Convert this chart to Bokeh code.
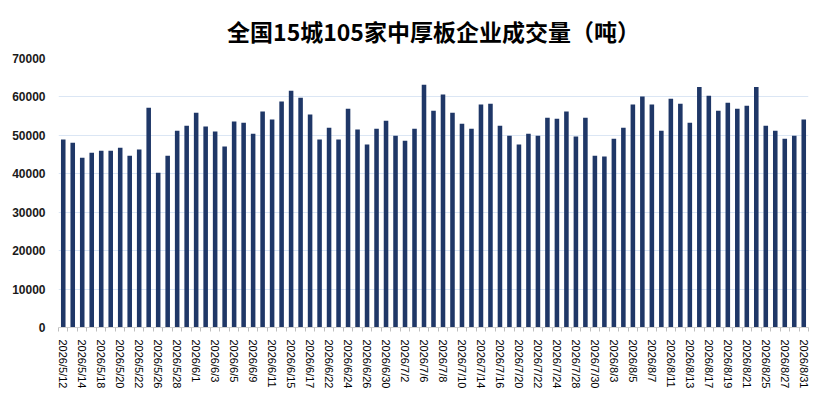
from bokeh.plotting import figure
from bokeh.models import Range1d, FixedTicker
from bokeh.embed import file_html
from bokeh.resources import INLINE

dates = [
    "2026/5/12", "2026/5/13", "2026/5/14", "2026/5/15", "2026/5/18", "2026/5/19", "2026/5/20",
    "2026/5/21", "2026/5/22", "2026/5/25", "2026/5/26", "2026/5/27", "2026/5/28", "2026/5/29",
    "2026/6/1", "2026/6/2", "2026/6/3", "2026/6/4", "2026/6/5", "2026/6/8", "2026/6/9",
    "2026/6/10", "2026/6/11", "2026/6/12", "2026/6/15", "2026/6/16", "2026/6/17", "2026/6/18",
    "2026/6/22", "2026/6/23", "2026/6/24", "2026/6/25", "2026/6/26", "2026/6/29", "2026/6/30",
    "2026/7/1", "2026/7/2", "2026/7/3", "2026/7/6", "2026/7/7", "2026/7/8", "2026/7/9",
    "2026/7/10", "2026/7/13", "2026/7/14", "2026/7/15", "2026/7/16", "2026/7/17", "2026/7/20",
    "2026/7/21", "2026/7/22", "2026/7/23", "2026/7/24", "2026/7/27", "2026/7/28", "2026/7/29",
    "2026/7/30", "2026/7/31", "2026/8/3", "2026/8/4", "2026/8/5", "2026/8/6", "2026/8/7",
    "2026/8/10", "2026/8/11", "2026/8/12", "2026/8/13", "2026/8/14", "2026/8/17", "2026/8/18",
    "2026/8/19", "2026/8/20", "2026/8/21", "2026/8/24", "2026/8/25", "2026/8/26", "2026/8/27",
    "2026/8/28", "2026/8/31",
]

volumes = [
    48900, 48100, 44200, 45500, 46000, 46000, 46800,
    44700, 46300, 57200, 40300, 44700, 51200, 52500,
    55900, 52300, 51000, 47100, 53600, 53300, 50400,
    56200, 54100, 58800, 61600, 59800, 55400, 48900,
    52000, 48900, 56900, 51500, 47600, 51700, 53800,
    49900, 48600, 51700, 63200, 56400, 60600, 55900,
    53000, 51700, 58000, 58200, 52500, 49900, 47600,
    50400, 49900, 54600, 54300, 56200, 49700, 54600,
    44700, 44500, 49100, 52000, 58000, 60100, 58000,
    51200, 59500, 58200, 53300, 62600, 60300, 56400,
    58500, 56900, 57700, 62600, 52500, 51200, 49100,
    49900, 54100,
]

y_ticks = [0, 10000, 20000, 30000, 40000, 50000, 60000, 70000]
title_text = "全国15城105家中厚板企业成交量（吨）"

n = len(dates)
xs = list(range(n))

p = figure(
    width=817, height=403,
    output_backend="svg", toolbar_location=None,
    x_range=Range1d(-0.5, n - 0.5), y_range=Range1d(0, 70000),
    min_border_left=58, min_border_right=9, min_border_top=58, min_border_bottom=76,
    title=title_text,
)
p.outline_line_color = None
p.background_fill_color = "white"
p.border_fill_color = "white"

p.title.align = "center"
p.title.text_font = "Noto Sans CJK SC"
p.title.text_font_size = "23px"
p.title.text_font_style = "bold"
p.title.text_color = "#000000"
p.title.standoff = 22

p.vbar(x=xs, top=volumes, width=0.48, color="#1F3767", line_color=None)

# y axis
p.yaxis.ticker = FixedTicker(ticks=y_ticks)
p.yaxis.axis_line_color = None
p.yaxis.major_tick_line_color = None
p.yaxis.minor_tick_line_color = None
p.yaxis.major_label_text_font = "Liberation Sans"
p.yaxis.major_label_text_font_size = "12px"
p.yaxis.major_label_text_font_style = "bold"
p.yaxis.major_label_text_color = "#1a1a1a"
p.yaxis.major_label_standoff = 7
p.yaxis.formatter.use_scientific = False

p.ygrid.ticker = FixedTicker(ticks=y_ticks)
p.ygrid.grid_line_color = "#dbe6f4"
p.ygrid.grid_line_width = 1
p.xgrid.grid_line_color = None

# x axis
label_idx = list(range(0, n, 2))
p.xaxis.ticker = FixedTicker(ticks=label_idx, minor_ticks=[i - 0.5 for i in range(n + 1)])
p.xaxis.major_label_overrides = {i: dates[i] for i in label_idx}
p.xaxis.major_label_orientation = "vertical"
p.xaxis.major_label_text_font = "Liberation Sans"
p.xaxis.major_label_text_font_size = "11px"
p.xaxis.major_label_text_color = "#000000"
p.xaxis.major_label_standoff = 6
p.xaxis.major_tick_line_color = None
p.xaxis.minor_tick_line_color = "#bfbfbf"
p.xaxis.minor_tick_in = 0
p.xaxis.minor_tick_out = 4
p.xaxis.axis_line_color = "#d0d0d0"

open("out.html", "w").write(file_html(p, INLINE))
